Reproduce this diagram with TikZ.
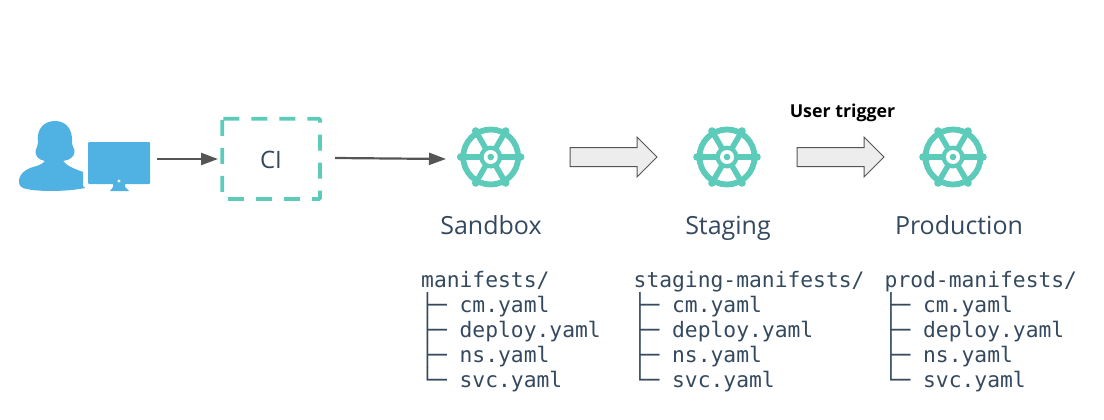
\documentclass[tikz,border=0pt]{standalone}
\usepackage{fontspec}
\setmainfont{Open Sans}
\newfontfamily\treefont{DejaVu Sans Mono}
\usetikzlibrary{arrows.meta}
\definecolor{teal}{HTML}{5DCBB9}
\definecolor{sky}{HTML}{4FB2E3}
\definecolor{ink}{HTML}{34495E}
\definecolor{arrowgrey}{HTML}{555555}
\tikzset{
  x=1pt,y=-1pt,
  flow/.style={draw=arrowgrey,line width=2.2pt,-{Triangle[length=17pt,width=12pt]},shorten >=0pt},
  label/.style={font=\fontsize{25}{25}\selectfont,text=ink,anchor=base,inner sep=0pt},
  tree/.style={font=\treefont\fontsize{21.3}{25}\selectfont,execute at begin node={\lineskiplimit=-20pt\relax},text=ink,anchor=north west,inner sep=0pt,align=left},
  blockarrow/.style={draw=arrowgrey,fill=black!7,line width=1pt,line join=miter},
  pics/wheel/.style={code={
    \draw[teal,line width=5.8pt] (0,0) circle[radius=27.5];
    \foreach \a in {0,60,...,300}{
      \draw[teal,line width=5.6pt] (\a:9) -- (\a:29);
      \fill[teal] (\a:30) circle[radius=3.8];
    }
    \fill[teal] (0,0) circle[radius=11.5];
    \fill[white] (0,0) circle[radius=7];
    \fill[teal] (0,0) circle[radius=3.3];
  }},
  pics/block/.style={code={
    \draw[blockarrow] (0,-9.5) -- (67,-9.5) -- (67,-20) -- (87,0) -- (67,20) -- (67,9.5) -- (0,9.5) -- cycle;
  }}
}
\begin{document}
\begin{tikzpicture}
\useasboundingbox (0,0) rectangle (1104,420);
% user
\fill[sky] (19,182)
  .. controls (19,174) and (24,171) .. (30,168)
  .. controls (36,166) and (42,165) .. (45,161)
  .. controls (38,160) and (35,155) .. (35.5,151)
  .. controls (36,148) and (38,146) .. (38,143)
  .. controls (36,129) and (44,121) .. (55,121)
  .. controls (66,121) and (73,129) .. (72,143)
  .. controls (72,146) and (75,149) .. (74.5,152)
  .. controls (74,157) and (70,160) .. (63,161)
  .. controls (66,165) and (72,168) .. (83,172)
  -- (83,186) -- (85,188)
  .. controls (65,192) and (35,192) .. (23,188)
  .. controls (20,187) and (19,185) .. (19,182) -- cycle;
% monitor
\fill[sky,rounded corners=1pt] (88,142) rectangle (150,184);
\fill[sky] (113,184) -- (125,184) -- (125,187) -- (129,191) -- (110,191) -- (113,187) -- cycle;
\fill[white] (119,181) circle[radius=1.6];
\node[inner sep=0pt,minimum width=0pt] (user) at (150,159) {};
% CI
\draw[teal,line width=3.8pt,dash pattern=on 16pt off 12pt,rounded corners=1pt] (222.3,118.7) -- (320,118.7) -- (320,199) -- (222.3,199) -- cycle;
\node[font=\fontsize{24}{24}\selectfont,text=ink,inner sep=0pt] (ci) at (271,160) {CI};
\coordinate (ciIn) at (218,159);
\coordinate (userOut) at (157,159);
\coordinate (ciOut) at (335,158);
\coordinate (sandboxIn) at (446,159);
\draw[flow] (userOut) -- (ciIn);
\draw[flow] (ciOut) -- (sandboxIn);
% clusters
\pic (w1) at (490.7,157) {wheel};
\pic (w2) at (727,157) {wheel};
\pic (w3) at (953,157) {wheel};
\pic (b1) at (570,157) {block};
\pic (b2) at (797,157) {block};
\node[font=\bfseries\fontsize{17.8}{18}\selectfont,text=black,inner sep=0pt] (trigger) at (842.5,112.5) {User trigger};
\node[label] (sandbox) at (491,234) {Sandbox};
\node[label] (staging) at (728,234) {Staging};
\node[label] (production) at (959,234) {Production};
\node[tree] (t1) at (421,271) {manifests/\\├─ cm.yaml\\├─ deploy.yaml\\├─ ns.yaml\\└─ svc.yaml};
\node[tree] (t2) at (633.5,271) {staging-manifests/\\├─ cm.yaml\\├─ deploy.yaml\\├─ ns.yaml\\└─ svc.yaml};
\node[tree] (t3) at (884.5,271) {prod-manifests/\\├─ cm.yaml\\├─ deploy.yaml\\├─ ns.yaml\\└─ svc.yaml};
\end{tikzpicture}
\end{document}
